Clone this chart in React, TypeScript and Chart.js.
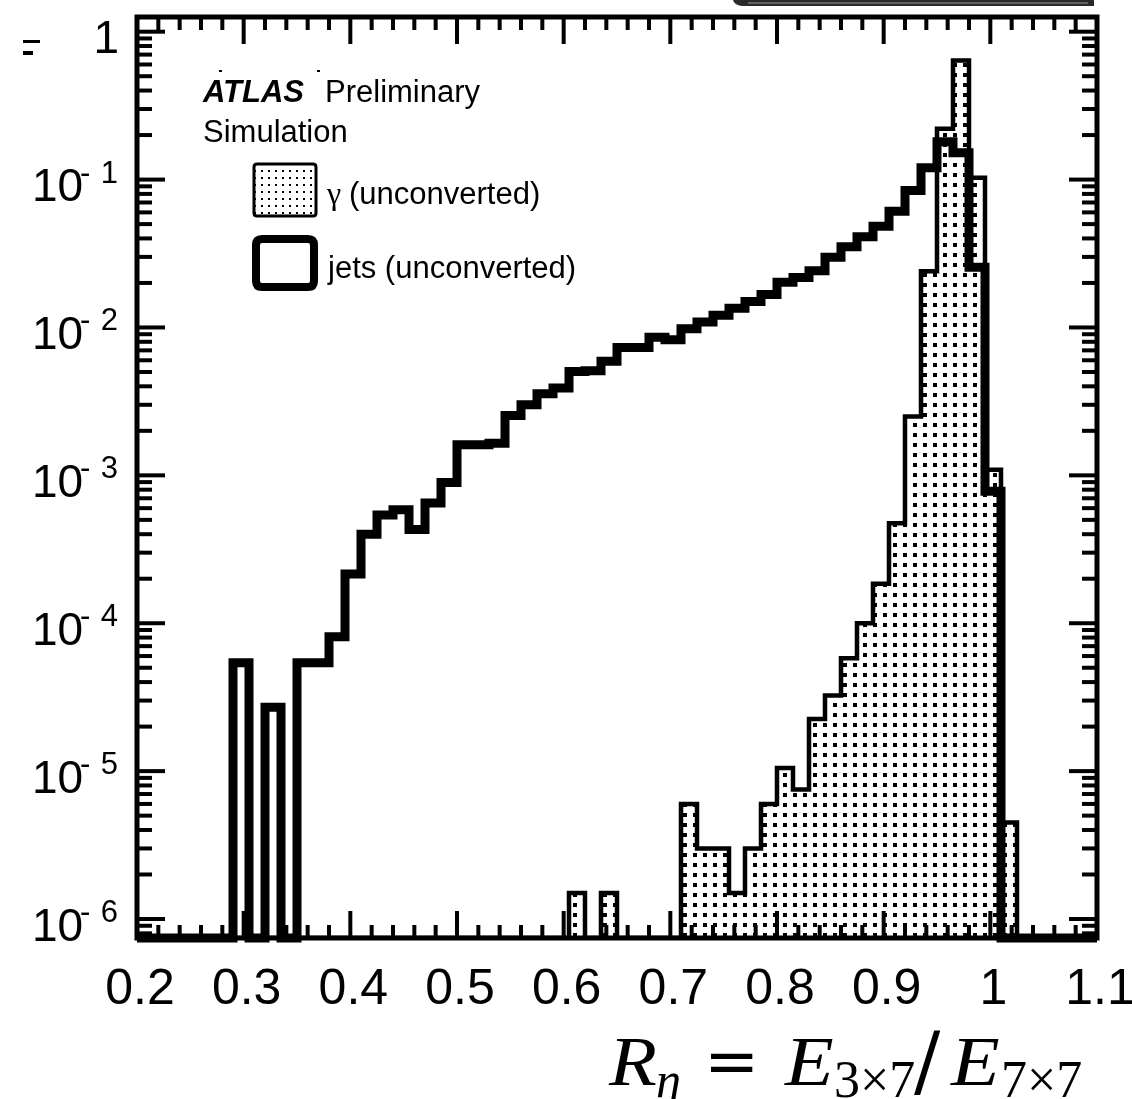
import React, { useEffect, useRef } from 'react';
import { Chart, registerables } from 'chart.js';

Chart.register(...registerables);

// ---- binning of the histograms ----
const BIN_START = 0.2;
const BIN_WIDTH = 0.015;

// ---- jets (unconverted), normalised entries per bin (60 bins, 0.2 .. 1.1) ----
const JETS: number[] = [
  0, 0, 0, 0, 0, 0, 5.4e-5, 0, 2.7e-5, 0,
  5.4e-5, 5.4e-5, 8.1e-5, 2.15e-4, 4.0e-4, 5.4e-4, 5.85e-4, 4.3e-4, 6.5e-4, 8.95e-4,
  1.61e-3, 1.61e-3, 1.65e-3, 2.54e-3, 3.0e-3, 3.56e-3, 3.9e-3, 5.04e-3, 5.1e-3, 5.9e-3,
  7.33e-3, 7.33e-3, 8.57e-3, 8.27e-3, 9.8e-3, 1.09e-2, 1.21e-2, 1.35e-2, 1.5e-2, 1.67e-2,
  2.02e-2, 2.18e-2, 2.42e-2, 2.98e-2, 3.51e-2, 4.11e-2, 4.83e-2, 6.1e-2, 8.43e-2, 0.12,
  0.18, 0.152, 2.55e-2, 7.8e-4, 0, 0, 0, 0, 0, 0,
];

// ---- gamma (unconverted) ----
const PHOTONS: number[] = [
  0, 0, 0, 0, 0, 0, 0, 0, 0, 0,
  0, 0, 0, 0, 0, 0, 0, 0, 0, 0,
  0, 0, 0, 0, 0, 0, 0, 1.5e-6, 0, 1.5e-6,
  0, 0, 0, 0, 6.0e-6, 3.0e-6, 3.0e-6, 1.5e-6, 3.0e-6, 6.0e-6,
  1.05e-5, 7.5e-6, 2.25e-5, 3.25e-5, 5.8e-5, 1.0e-4, 1.85e-4, 4.75e-4, 2.5e-3, 2.4e-2,
  0.221, 0.638, 0.103, 1.09e-3, 4.5e-6, 0, 0, 0, 0, 0,
];

// ---- axes ----
const X_MIN = 0.2;
const X_MAX = 1.1;
const Y_MIN = 7.44e-7;
const Y_MAX = 1.257;
const X_TICK_VALUES = [0.2, 0.3, 0.4, 0.5, 0.6, 0.7, 0.8, 0.9, 1.0, 1.1];
const X_TICK_LABELS = ['0.2', '0.3', '0.4', '0.5', '0.6', '0.7', '0.8', '0.9', '1', '1.1'];
const Y_TICK_VALUES = [1, 1e-1, 1e-2, 1e-3, 1e-4, 1e-5, 1e-6];
const Y_TICK_BASES = ['1', '10', '10', '10', '10', '10', '10'];
const Y_TICK_EXPONENTS = ['', '1', '2', '3', '4', '5', '6'];

const SANS = '"Liberation Sans", Arial, Helvetica, sans-serif';
const SERIF = '"Liberation Serif", "Times New Roman", serif';

function histPoints(vals: number[]) {
  const pts = vals.map((v, i) => ({ x: BIN_START + i * BIN_WIDTH, y: v > 0 ? v : Y_MIN }));
  const last = vals[vals.length - 1];
  pts.push({ x: BIN_START + vals.length * BIN_WIDTH, y: last > 0 ? last : Y_MIN });
  return pts;
}

function makeDotPattern(ctx: CanvasRenderingContext2D, period: number, dot: number, off: number) {
  const c = document.createElement('canvas');
  c.width = period;
  c.height = period;
  const g = c.getContext('2d')!;
  g.fillStyle = '#fff';
  g.fillRect(0, 0, period, period);
  g.fillStyle = '#000';
  g.fillRect(off, off, dot, dot);
  return ctx.createPattern(c, 'repeat')!;
}

function line(ctx: CanvasRenderingContext2D, x1: number, y1: number, x2: number, y2: number) {
  ctx.beginPath();
  ctx.moveTo(x1, y1);
  ctx.lineTo(x2, y2);
  ctx.stroke();
}

function roundRect(ctx: CanvasRenderingContext2D, x: number, y: number, w: number, h: number, r: number) {
  ctx.beginPath();
  ctx.moveTo(x + r, y);
  ctx.lineTo(x + w - r, y);
  ctx.quadraticCurveTo(x + w, y, x + w, y + r);
  ctx.lineTo(x + w, y + h - r);
  ctx.quadraticCurveTo(x + w, y + h, x + w - r, y + h);
  ctx.lineTo(x + r, y + h);
  ctx.quadraticCurveTo(x, y + h, x, y + h - r);
  ctx.lineTo(x, y + r);
  ctx.quadraticCurveTo(x, y, x + r, y);
  ctx.closePath();
}

function stretchedText(ctx: CanvasRenderingContext2D, t: string, x: number, y: number, sx: number) {
  ctx.save();
  ctx.translate(x, y);
  ctx.scale(sx, 1);
  ctx.fillText(t, 0, 0);
  ctx.restore();
}

const decorPlugin = {
  id: 'atlasDecor',
  afterDatasetsDraw(chart: any) {
    const ctx: CanvasRenderingContext2D = chart.ctx;
    const xs = chart.scales.x;
    const ys = chart.scales.y;
    const { left, right, top, bottom } = chart.chartArea;
    ctx.save();
    ctx.strokeStyle = '#000';
    ctx.fillStyle = '#000';
    ctx.lineCap = 'butt';

    // x ticks (bottom and top, inside the frame)
    ctx.lineWidth = 4;
    for (let i = 0; i <= 45; i++) {
      const v = X_MIN + i * 0.02;
      const px = xs.getPixelForValue(v);
      const len = i % 5 === 0 ? 27 : 13;
      line(ctx, px, bottom, px, bottom - len);
      line(ctx, px, top, px, top + len);
    }
    // y ticks (left and right)
    for (let e = -7; e <= 0; e++) {
      for (let m = 1; m <= 9; m++) {
        const v = m * Math.pow(10, e);
        if (v < Y_MIN || v > Y_MAX) continue;
        const py = ys.getPixelForValue(v);
        const len = m === 1 ? 28 : 15;
        line(ctx, left, py, left + len, py);
        line(ctx, right, py, right - len, py);
      }
    }
    // frame
    ctx.lineWidth = 5;
    ctx.strokeRect(left, top, right - left, bottom - top);

    // x labels
    ctx.font = `50px ${SANS}`;
    ctx.textAlign = 'center';
    ctx.textBaseline = 'alphabetic';
    X_TICK_VALUES.forEach((v, i) => {
      ctx.fillText(X_TICK_LABELS[i], xs.getPixelForValue(v) + 3, 1004);
    });

    // y labels
    Y_TICK_VALUES.forEach((v, i) => {
      const py = ys.getPixelForValue(v);
      if (Y_TICK_EXPONENTS[i] === '') {
        ctx.font = `46px ${SANS}`;
        ctx.textAlign = 'right';
        ctx.fillText(Y_TICK_BASES[i], 119, py + 21.5);
      } else {
        ctx.font = `46px ${SANS}`;
        ctx.textAlign = 'left';
        ctx.fillText(Y_TICK_BASES[i], 32, py + 21.5);
        ctx.font = `31px ${SANS}`;
        ctx.fillText('-', 80, py + 3);
        ctx.textAlign = 'right';
        ctx.fillText(Y_TICK_EXPONENTS[i], 118, py + 3);
      }
    });

    // ATLAS label
    ctx.textAlign = 'left';
    ctx.font = `italic bold 31px ${SANS}`;
    ctx.fillText('ATLAS', 203, 102);
    ctx.font = `31px ${SANS}`;
    ctx.fillText('Preliminary', 325, 102);
    ctx.fillText('Simulation', 203, 142);

    // legend
    const legendPattern = makeDotPattern(ctx, 7, 2, 2);
    ctx.fillStyle = legendPattern;
    ctx.fillRect(254, 164, 62, 52);
    ctx.fillStyle = '#000';
    ctx.lineWidth = 3;
    roundRect(ctx, 254, 164, 62, 52, 3);
    ctx.stroke();
    ctx.font = `32px ${SERIF}`;
    ctx.fillText('\u03b3', 327, 204);
    ctx.font = `31px ${SANS}`;
    ctx.fillText('(unconverted)', 349, 204);

    ctx.lineWidth = 8;
    roundRect(ctx, 256, 239, 58, 48, 6);
    ctx.stroke();
    ctx.font = `31px ${SANS}`;
    ctx.fillText('jets (unconverted)', 328, 278);

    // axis title  R_eta = E_{3x7} / E_{7x7}
    ctx.font = `italic 70px ${SERIF}`;
    stretchedText(ctx, 'R', 609, 1085, 1.12);
    ctx.font = `italic 50px ${SERIF}`;
    ctx.fillText('\u03b7', 656, 1097);
    ctx.font = `66px "DejaVu Serif", serif`;
    ctx.fillText('=', 704, 1083);
    ctx.font = `italic 70px ${SERIF}`;
    stretchedText(ctx, 'E', 785, 1085, 1.14);
    ctx.font = `52px ${SERIF}`;
    ctx.fillText('3\u00d77', 834, 1097);
    ctx.font = `78px "DejaVu Serif", serif`;
    ctx.fillText('/', 914, 1088);
    ctx.font = `italic 70px ${SERIF}`;
    stretchedText(ctx, 'E', 951, 1085, 1.14);
    ctx.font = `52px ${SERIF}`;
    ctx.fillText('7\u00d77', 1001, 1097);

    // small marks of the original page
    ctx.fillRect(23, 40, 17, 3);
    ctx.fillRect(23, 51, 10, 4);
    ctx.fillRect(219, 70, 3, 2);
    ctx.fillRect(317, 70, 3, 2);
    ctx.fillStyle = '#2a2a2a';
    ctx.beginPath();
    ctx.moveTo(733, 0);
    ctx.lineTo(1094, 0);
    ctx.lineTo(1094, 6);
    ctx.lineTo(742, 6);
    ctx.quadraticCurveTo(734, 5, 733, 0);
    ctx.closePath();
    ctx.fill();
    ctx.strokeStyle = '#999';
    ctx.lineWidth = 1;
    line(ctx, 748, 3, 1088, 3);

    ctx.restore();
  },
};

const App = () => {
  const ref = useRef<HTMLCanvasElement>(null);
  useEffect(() => {
    const canvas = ref.current!;
    const ctx = canvas.getContext('2d')!;
    const photonPattern = makeDotPattern(ctx, 10, 4, 3);
    const chart = new Chart(canvas, {
      type: 'line',
      data: {
        datasets: [
          {
            label: 'jets (unconverted)',
            data: histPoints(JETS),
            stepped: true,
            borderColor: '#000',
            borderWidth: 9,
            pointRadius: 0,
            pointHoverRadius: 0,
            fill: false,
            clip: false,
            order: 0,
            borderJoinStyle: 'miter',
            borderCapStyle: 'butt',
          } as any,
          {
            label: '\u03b3 (unconverted)',
            data: histPoints(PHOTONS),
            stepped: true,
            borderColor: '#000',
            borderWidth: 4.5,
            pointRadius: 0,
            pointHoverRadius: 0,
            fill: 'start',
            backgroundColor: photonPattern,
            order: 1,
            borderJoinStyle: 'miter',
            borderCapStyle: 'butt',
          } as any,
        ],
      },
      options: {
        animation: false,
        responsive: false,
        devicePixelRatio: 1,
        events: [],
        layout: { padding: { left: 137, right: 35, top: 17, bottom: 161 } },
        scales: {
          x: { type: 'linear', min: X_MIN, max: X_MAX, display: false },
          y: { type: 'logarithmic', min: Y_MIN, max: Y_MAX, display: false },
        },
        plugins: {
          legend: { display: false },
          title: { display: false },
          tooltip: { enabled: false },
        },
        elements: { line: { tension: 0 } },
      },
      plugins: [decorPlugin],
    } as any);
    return () => chart.destroy();
  }, []);
  return (
    <div style={{ position: 'fixed', left: 0, top: 0, width: 1132, height: 1099, background: '#fff' }}>
      <canvas ref={ref} width={1132} height={1099} style={{ display: 'block', width: 1132, height: 1099 }} />
    </div>
  );
};

export default App;
